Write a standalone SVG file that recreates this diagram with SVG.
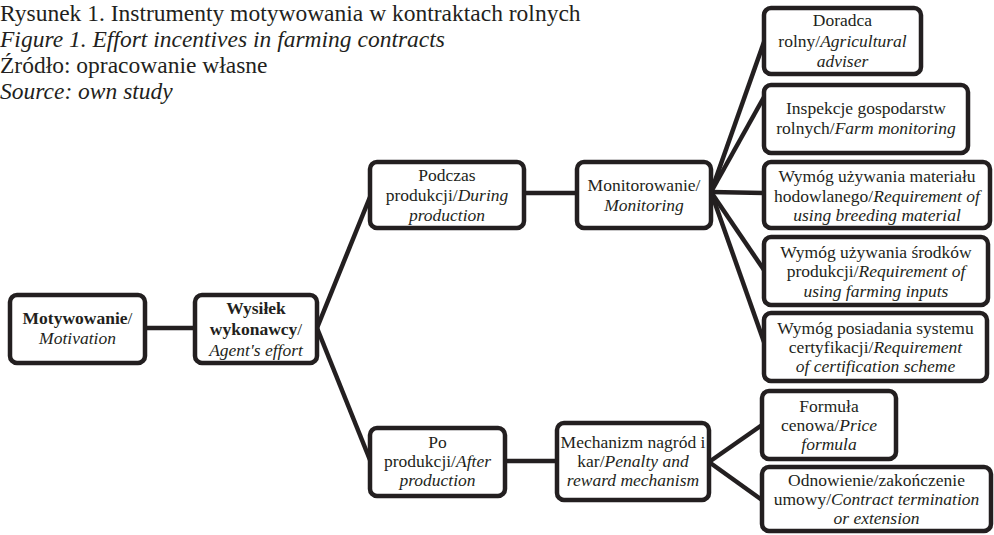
<svg xmlns="http://www.w3.org/2000/svg" width="994" height="535" viewBox="0 0 994 535" font-family="'Liberation Serif', 'Times New Roman', serif">
<style>
text{font-family:"Liberation Serif","Times New Roman",serif;fill:#231f20}
.t{font-size:23.5px}
.b{font-size:17.5px;text-anchor:middle}
.i{font-style:italic}
.bd{font-weight:bold}
.box{fill:#fff;stroke:#231f20;stroke-width:4.5}
.ln{stroke:#231f20;stroke-width:4.5;fill:none}
</style>
<rect width="994" height="535" fill="#fff"/>
<g id="caption">
<text class="t" x="0" y="21">Rysunek 1. Instrumenty motywowania w kontraktach rolnych</text>
<text class="t i" x="0" y="47">Figure 1. Effort incentives in farming contracts</text>
<text class="t" x="0" y="73">Źródło: opracowanie własne</text>
<text class="t i" x="0" y="99">Source: own study</text>
</g>
<g id="connectors">
<line class="ln" x1="145" y1="328" x2="195" y2="328"/>
<line class="ln" x1="317" y1="328" x2="370" y2="197"/>
<line class="ln" x1="317" y1="328" x2="370" y2="460"/>
<line class="ln" x1="524" y1="193" x2="577" y2="193"/>
<line class="ln" x1="505" y1="461" x2="557" y2="461"/>
<line class="ln" x1="711" y1="192" x2="764" y2="42"/>
<line class="ln" x1="711" y1="192" x2="764" y2="97"/>
<line class="ln" x1="711" y1="192" x2="764" y2="193"/>
<line class="ln" x1="711" y1="192" x2="764" y2="270"/>
<line class="ln" x1="711" y1="192" x2="764" y2="342"/>
<line class="ln" x1="709" y1="462" x2="762" y2="425"/>
<line class="ln" x1="709" y1="462" x2="762" y2="500"/>
</g>
<g id="motywowanie">
<rect class="box" x="10" y="295" width="135" height="68" rx="7"/>
<text class="b" x="77.5" y="324"><tspan class="bd">Motywowanie</tspan>/</text>
<text class="b i" x="77.5" y="344">Motivation</text>
</g>
<g id="wysilek">
<rect class="box" x="195" y="295" width="122" height="68" rx="7"/>
<text class="b bd" x="256" y="314">Wysiłek</text>
<text class="b" x="256" y="335"><tspan class="bd">wykonawcy</tspan>/</text>
<text class="b i" x="256" y="356">Agent's effort</text>
</g>
<g id="podczas">
<rect class="box" x="370" y="162" width="154" height="66" rx="7"/>
<text class="b" x="447" y="181">Podczas</text>
<text class="b" x="447" y="201">produkcji/<tspan class="i">During</tspan></text>
<text class="b i" x="447" y="221">production</text>
</g>
<g id="monitorowanie">
<rect class="box" x="577" y="162" width="134" height="66" rx="7"/>
<text class="b" x="644" y="191">Monitorowanie/</text>
<text class="b i" x="644" y="211">Monitoring</text>
</g>
<g id="po">
<rect class="box" x="370" y="428" width="135" height="68" rx="7"/>
<text class="b" x="437.5" y="448">Po</text>
<text class="b" x="437.5" y="467">produkcji/<tspan class="i">After</tspan></text>
<text class="b i" x="437.5" y="486">production</text>
</g>
<g id="mechanizm">
<rect class="box" x="557" y="423" width="152" height="77" rx="7"/>
<text class="b" x="633" y="448">Mechanizm nagród i</text>
<text class="b" x="633" y="467">kar/<tspan class="i">Penalty and</tspan></text>
<text class="b i" x="633" y="486">reward mechanism</text>
</g>
<g id="doradca">
<rect class="box" x="764" y="8" width="157" height="66" rx="7"/>
<text class="b" x="842.5" y="26">Doradca</text>
<text class="b" x="842.5" y="47">rolny/<tspan class="i">Agricultural</tspan></text>
<text class="b i" x="842.5" y="67">adviser</text>
</g>
<g id="inspekcje">
<rect class="box" x="764" y="85" width="204" height="68" rx="7"/>
<text class="b" x="866" y="114">Inspekcje gospodarstw</text>
<text class="b" x="866" y="134">rolnych/<tspan class="i">Farm monitoring</tspan></text>
</g>
<g id="material">
<rect class="box" x="764" y="162" width="226" height="66" rx="7"/>
<text class="b" x="877" y="182">Wymóg używania materiału</text>
<text class="b" x="877" y="202">hodowlanego/<tspan class="i">Requirement of</tspan></text>
<text class="b i" x="877" y="221">using breeding material</text>
</g>
<g id="srodki">
<rect class="box" x="764" y="237" width="224" height="68" rx="7"/>
<text class="b" x="876" y="258">Wymóg używania środków</text>
<text class="b" x="876" y="277">produkcji/<tspan class="i">Requirement of</tspan></text>
<text class="b i" x="876" y="297">using farming inputs</text>
</g>
<g id="certyfikacja">
<rect class="box" x="764" y="313" width="223" height="68" rx="7"/>
<text class="b" x="875.5" y="334">Wymóg posiadania systemu</text>
<text class="b" x="875.5" y="353">certyfikacji/<tspan class="i">Requirement</tspan></text>
<text class="b i" x="875.5" y="372">of certification scheme</text>
</g>
<g id="formula">
<rect class="box" x="762" y="391" width="134" height="68" rx="7"/>
<text class="b" x="829" y="412">Formuła</text>
<text class="b" x="829" y="431">cenowa/<tspan class="i">Price</tspan></text>
<text class="b i" x="829" y="450">formula</text>
</g>
<g id="odnowienie">
<rect class="box" x="762" y="467" width="229" height="64" rx="7"/>
<text class="b" x="876.5" y="486">Odnowienie/zakończenie</text>
<text class="b" x="876.5" y="505">umowy/<tspan class="i">Contract termination</tspan></text>
<text class="b i" x="876.5" y="524">or extension</text>
</g>
</svg>
